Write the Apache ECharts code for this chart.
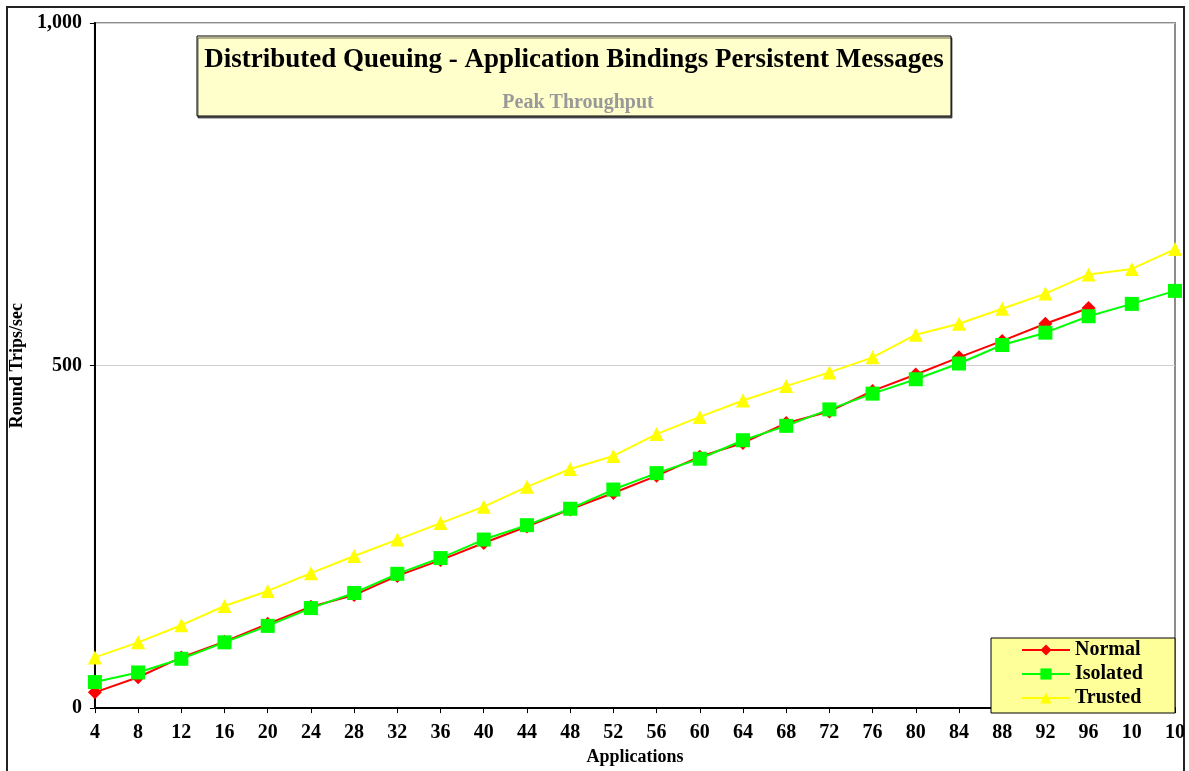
<!DOCTYPE html>
<html>
<head>
<meta charset="utf-8">
<title>Distributed Queuing - Peak Throughput</title>
<script src="https://cdn.jsdelivr.net/npm/echarts@6/dist/echarts.min.js"></script>
<style>
  html, body { margin: 0; padding: 0; background: #fff; }
  #chart { width: 1189px; height: 771px; }
</style>
</head>
<body>
<div id="chart"></div>
<script>
// x 轴：应用数（原图最后两个标签被截成 "10"）
const applications = ['4', '8', '12', '16', '20', '24', '28', '32', '36', '40', '44', '48', '52',
  '56', '60', '64', '68', '72', '76', '80', '84', '88', '92', '96', '10', '10']

// 各系列 Round Trips/sec
const normal = [23, 45, 74, 97, 123, 148, 165, 193, 216, 241, 265, 290, 314,
  339, 367, 387, 416, 433, 463, 487, 512, 536, 561, 584, '-', '-']
const isolated = [38, 52, 72, 96, 120, 146, 168, 196, 219, 246, 267, 291, 319,
  343, 364, 391, 412, 436, 459, 480, 503, 530, 548, 572, 590, 609]
const trusted = [74, 96, 121, 149, 171, 197, 222, 246, 270, 294, 323, 349, 368,
  400, 425, 449, 470, 490, 512, 545, 561, 583, 605, 633, 641, 670]

const yTicks = [0, 500, 1000]

const serif = '"Liberation Serif", "Times New Roman", serif'

const chart = echarts.init(document.getElementById('chart'))

const lineSeries = (name, data, color, symbol, size) => ({
  name: name,
  type: 'line',
  data: data,
  symbol: symbol,
  symbolSize: size,
  showSymbol: true,
  animation: false,
  lineStyle: { color: color, width: 2 },
  itemStyle: { color: color, borderWidth: 0 }
})

chart.setOption({
  backgroundColor: '#fff',
  grid: {
    left: 94, right: 14, top: 23, bottom: 58,
    show: true,
    borderColor: '#8c8c8c',
    borderWidth: 2
  },
  legend: {
    orient: 'vertical',
    left: 1021,
    top: 640,
    itemWidth: 48,
    itemHeight: 14,
    itemGap: 4,
    padding: 0,
    textStyle: { fontFamily: serif, fontWeight: 'bold', fontSize: 20, color: '#000' },
    data: ['Normal', 'Isolated', 'Trusted']
  },
  xAxis: {
    type: 'category',
    data: applications,
    boundaryGap: false,
    name: 'Applications',
    nameLocation: 'middle',
    nameGap: 38,
    nameTextStyle: { fontFamily: serif, fontWeight: 'bold', fontSize: 18, color: '#000' },
    axisLine: { lineStyle: { color: '#000', width: 2 } },
    axisTick: { show: true, length: 5, inside: false, alignWithLabel: true, lineStyle: { color: '#000' } },
    axisLabel: { interval: 0, margin: 15, fontFamily: serif, fontWeight: 'bold', fontSize: 20, color: '#000' },
    splitLine: { show: false }
  },
  yAxis: {
    type: 'value',
    min: yTicks[0],
    max: yTicks[yTicks.length - 1],
    interval: 500,
    name: 'Round Trips/sec',
    nameLocation: 'middle',
    nameGap: 63,
    nameTextStyle: { fontFamily: serif, fontWeight: 'bold', fontSize: 18, color: '#000' },
    axisLine: { show: true, lineStyle: { color: '#000', width: 2 } },
    axisTick: { show: true, length: 5, lineStyle: { color: '#000' } },
    axisLabel: {
      margin: 13,
      fontFamily: serif, fontWeight: 'bold', fontSize: 20, color: '#000',
      formatter: v => v.toLocaleString('en-US')
    },
    splitLine: { show: true, lineStyle: { color: '#d0d0d0', width: 1 } }
  },
  graphic: [
    // 外框
    {
      type: 'rect', z: -1, silent: true,
      shape: { x: 7, y: 7, width: 1177, height: 800 },
      style: { fill: 'none', stroke: '#222', lineWidth: 2 }
    },
    // 标题框
    {
      type: 'rect', z: 5, silent: true,
      shape: { x: 197, y: 36, width: 754, height: 80 },
      style: { fill: '#FFFFCC', stroke: '#000', lineWidth: 1, shadowColor: 'rgba(0,0,0,0.6)', shadowOffsetX: 1, shadowOffsetY: 2 }
    },
    {
      type: 'text', z: 6, silent: true,
      style: {
        x: 574, y: 60, text: 'Distributed Queuing - Application Bindings Persistent Messages',
        align: 'center', verticalAlign: 'middle',
        font: 'bold 27px ' + serif, fill: '#000'
      }
    },
    {
      type: 'text', z: 6, silent: true,
      style: {
        x: 578, y: 103, text: 'Peak Throughput',
        align: 'center', verticalAlign: 'middle',
        font: 'bold 20px ' + serif, fill: '#999'
      }
    },
    // 图例框
    {
      type: 'rect', z: 1, silent: true,
      shape: { x: 991, y: 638, width: 184, height: 75 },
      style: { fill: '#FFFF99', stroke: '#000', lineWidth: 1 }
    }
  ],
  series: [
    lineSeries('Normal', normal, '#FF0000', 'diamond', 14),
    lineSeries('Isolated', isolated, '#00FF00', 'rect', 14),
    lineSeries('Trusted', trusted, '#FFFF00', 'triangle', 14)
  ]
})
</script>
</body>
</html>
